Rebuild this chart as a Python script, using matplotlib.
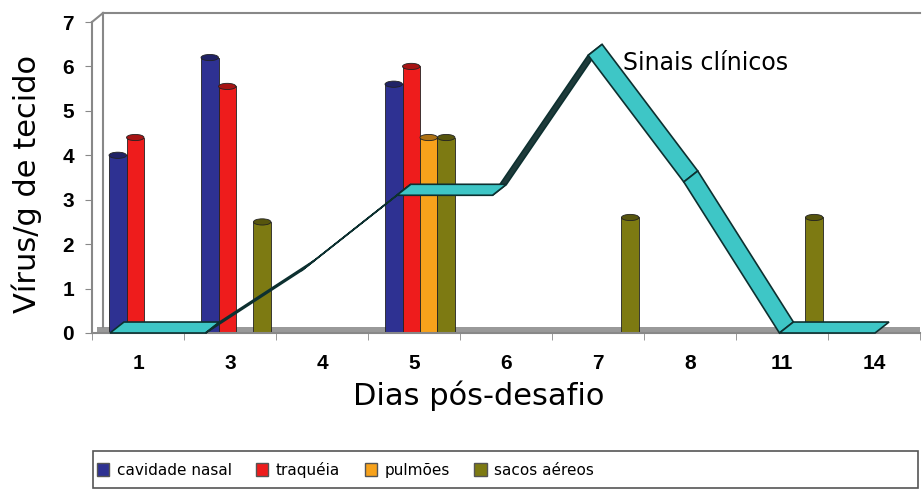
import numpy as np
import matplotlib
matplotlib.use("Agg")
import matplotlib.pyplot as plt
from matplotlib.patches import Ellipse, Polygon, Patch, Rectangle

# dados
dias = ['1', '3', '4', '5', '6', '7', '8', '11', '14']
cavidade_nasal = [4.0, 6.2, 0, 5.6, 0, 0, 0, 0, 0]
traqueia = [4.4, 5.55, 0, 6.0, 0, 0, 0, 0, 0]
pulmoes = [0, 0, 0, 4.4, 0, 0, 0, 0, 0]
sacos_aereos = [0, 2.5, 0, 4.4, 0, 2.6, 0, 2.6, 0]
sinais_clinicos = [0, 0, 1.4, 3.1, 3.1, 6.25, 3.4, 0, 0]

series = [cavidade_nasal, traqueia, pulmoes, sacos_aereos]
nomes = ['cavidade nasal', 'traquéia', 'pulmões', 'sacos aéreos']
cores = ['#2E3192', '#EE1C1C', '#F7A21B', '#7D7A12']

fig = plt.figure(figsize=(9.22, 4.94), dpi=100)
ax = fig.add_axes([92/922, 161/494, 828/922, 311/494])
ax.set_xlim(-0.5, 8.5)
ax.set_ylim(0, 7)

x = np.arange(len(dias))
w = 0.19

# chao cinza
ax.fill_between([-0.45, 8.5], 0, 0.14, color='#999999', zorder=1, lw=0)

for k, (vals, cor) in enumerate(zip(series, cores)):
    vals = np.array(vals, dtype=float)
    pos = x + 0.065 + (k - 1.5) * w
    m = vals > 0
    ax.bar(pos[m], vals[m], width=w, color=cor, edgecolor='#222222', lw=0.6, zorder=2)
    escuro = tuple(c * 0.7 for c in matplotlib.colors.to_rgb(cor))
    for p, v in zip(pos[m], vals[m]):
        ax.add_patch(Ellipse((p, v), w, 0.14, facecolor=escuro, edgecolor='#222222',
                             lw=0.6, zorder=2.5))

ax.set_xticks(x)
ax.set_xticklabels(dias, fontsize=15, fontweight='bold', family='Liberation Sans')
ax.set_xticks(np.arange(-0.5, 9, 1), minor=True)
ax.tick_params(axis='x', which='major', length=0, pad=15)
ax.tick_params(axis='x', which='minor', length=5, color='#888888')
ax.set_yticks(range(8))
ax.set_yticklabels([str(i) for i in range(8)], fontsize=15, fontweight='bold',
                   family='Liberation Sans')
ax.tick_params(axis='y', length=5, color='#888888', pad=8)
for s in ['top', 'right']:
    ax.spines[s].set_visible(False)
for s in ['left', 'bottom']:
    ax.spines[s].set_color('#888888')
    ax.spines[s].set_linewidth(1.5)

# paredes do fundo
kw = dict(transform=ax.transAxes, clip_on=False, color='#888888', lw=1.5)
ax.plot([0.0133, 1.0], [1.029, 1.029], **kw)
ax.plot([0.0133, 0.0133], [0.02, 1.029], **kw)
ax.plot([0, 0.0133], [1, 1.029], **kw)

# fita dos sinais clinicos
ax2 = ax.twiny()
ax2.set_xlim(-0.188, 8.47)
ax2.set_ylim(0, 7)
ax2.axis('off')
u = np.arange(len(sinais_clinicos))
dx, dy = 0.146, 0.247
for j in range(len(u) - 1):
    p0 = (u[j], sinais_clinicos[j])
    p1 = (u[j + 1], sinais_clinicos[j + 1])
    a = ax2.transData.transform([p0, p1])
    d = ax2.transData.transform([(0, 0), (dx, dy)])
    seg = a[1] - a[0]
    dep = d[1] - d[0]
    cross = seg[0] * dep[1] - seg[1] * dep[0]
    cor = '#3EC6C6' if cross > 0 else '#1E3A3A'
    pts = [p0, p1, (p1[0] + dx, p1[1] + dy), (p0[0] + dx, p0[1] + dy)]
    ax2.add_patch(Polygon(pts, closed=True, facecolor=cor, edgecolor='#0D3030',
                          lw=1.2, zorder=4 if cross > 0 else 3, clip_on=False))

ax.text(5.27, 6.07, 'Sinais clínicos', fontsize=17, va='center', ha='left',
        family='DejaVu Sans', zorder=5)

fig.text(479/922, 1 - 396/494, 'Dias pós-desafio', fontsize=22, ha='center', va='center')
fig.text(27/922, 1 - 184/494, 'Vírus/g de tecido', fontsize=22, ha='center', va='center',
         rotation=90)

# legenda
fig.add_artist(Rectangle((93/922, 1 - 488/494), 825/922, 37/494, transform=fig.transFigure,
                         facecolor='white', edgecolor='#555555', lw=1.2))
hs = [Patch(facecolor=c, edgecolor='#555555') for c in cores]
fig.legend(hs, nomes, loc='center left', bbox_to_anchor=(0.105, 1 - 470/494), ncol=4,
           frameon=False, fontsize=11, handlelength=0.8, handleheight=0.9,
           handletextpad=0.5, columnspacing=1.6, borderpad=0, borderaxespad=0)

fig.savefig('out.png', dpi=100)
